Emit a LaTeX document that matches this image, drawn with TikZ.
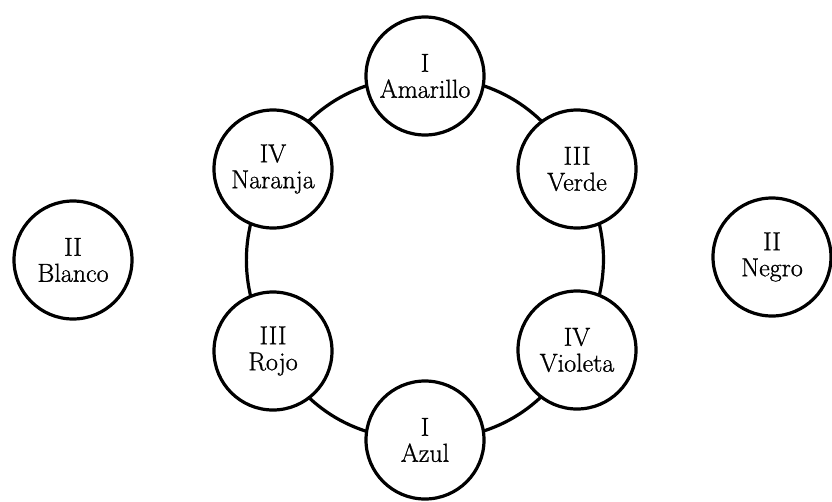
\documentclass[tikz,border=0pt]{standalone}
\usepackage{fontspec}
\newfontfamily\labelfont{Latin Modern Roman}[FakeBold=0.9]
\usetikzlibrary{backgrounds}
\begin{document}
\begin{tikzpicture}[x=1pt,y=-1pt,
  colorcircle/.style={circle,draw,line width=3.2pt,fill=white,minimum size=118pt,
    inner sep=0pt,align=center,font=\labelfont\fontsize{26}{26}\selectfont},
  ringline/.style={line width=3.2pt}]
\useasboundingbox (0,0) rectangle (832,501);
\node[colorcircle] (amarillo) at (425,76)  {I\\Amarillo};
\node[colorcircle] (verde)    at (577,169) {III\\Verde};
\node[colorcircle] (violeta)  at (577,350) {IV\\Violeta};
\node[colorcircle] (azul)     at (425,440) {I\\Azul};
\node[colorcircle] (rojo)     at (273,351) {III\\Rojo};
\node[colorcircle] (naranja)  at (273,169) {IV\\Naranja};
\node[colorcircle] (blanco)   at (73,260)  {II\\Blanco};
\node[colorcircle] (negro)    at (772,257) {II\\Negro};
\begin{scope}[on background layer]
\draw[ringline] (amarillo.center) to[bend left=30] (verde.center)
  to[bend left=30] (violeta.center) to[bend left=30] (azul.center)
  to[bend left=30] (rojo.center) to[bend left=30] (naranja.center)
  to[bend left=30] (amarillo.center);
\end{scope}
\end{tikzpicture}
\end{document}
